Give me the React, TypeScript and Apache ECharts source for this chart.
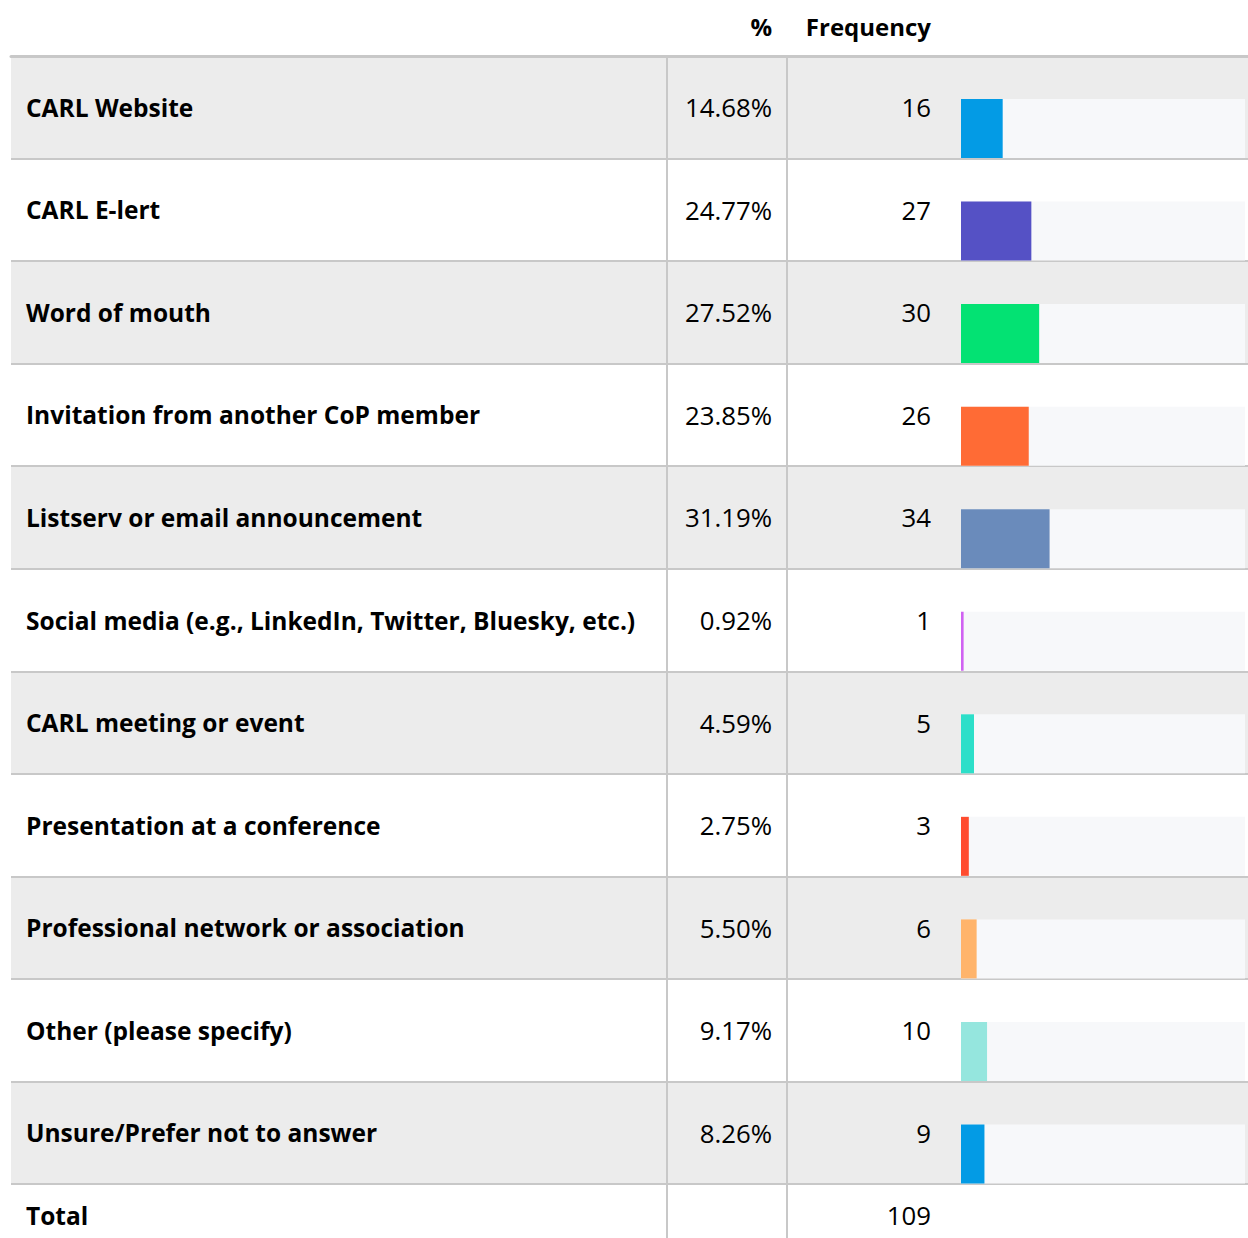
import React, { useEffect, useRef } from "react";
import * as echarts from "echarts";

const categories = [
  "CARL Website",
  "CARL E-lert",
  "Word of mouth",
  "Invitation from another CoP member",
  "Listserv or email announcement",
  "Social media (e.g., LinkedIn, Twitter, Bluesky, etc.)",
  "CARL meeting or event",
  "Presentation at a conference",
  "Professional network or association",
  "Other (please specify)",
  "Unsure/Prefer not to answer",
];
const percents = ["14.68%", "24.77%", "27.52%", "23.85%", "31.19%", "0.92%", "4.59%", "2.75%", "5.50%", "9.17%", "8.26%"];
const frequencies = [16, 27, 30, 26, 34, 1, 5, 3, 6, 10, 9];
const barColors = ["#039be5", "#5551c5", "#03e273", "#ff6b35", "#6a8bbb", "#d062f2", "#2ddfc9", "#ff4c2f", "#ffb46b", "#95e6de", "#039be5"];
const totalLabel = ["Total"];
const totalFrequency = ["109"];
const totalCount = 109;
const headerLabels = ["%", "Frequency"];

const FONT = "Open Sans";
const FS_BOLD = 24.5;
const FS = 25.8;
const LINE = "#c8c8c8";

export default function App() {
  const ref = useRef<HTMLDivElement>(null);
  useEffect(() => {
    const chart = echarts.init(ref.current!, undefined, { renderer: "svg" });
    const bodyTop = 56;
    const bodyH = 1128;
    const totTop = 1184;
    const totH = 54;
    const hiddenX = (gridIndex: number) => ({
      type: "value", gridIndex, show: false, min: 0, max: 1,
    });
    const catAxis = (gridIndex: number, data: string[], extra: any) => ({
      type: "category",
      gridIndex,
      data,
      inverse: true,
      axisTick: { show: false },
      axisLine: { show: false },
      axisLabel: { show: false },
      splitLine: { show: false },
      ...extra,
    });
    const vline = { show: true, lineStyle: { color: LINE, width: 2 } };
    const boldText = { fontFamily: FONT, fontSize: FS_BOLD, fontWeight: "bold", color: "#000" };
    const plainText = { fontFamily: FONT, fontSize: FS, color: "#000" };
    const totalShift = { verticalAlign: "top", lineHeight: 8 };
    const option: any = {
      animation: false,
      backgroundColor: "#ffffff",
      title: [
        { text: headerLabels[0], right: 1248 - 772, top: 10, padding: 0,
          textStyle: { fontFamily: FONT, fontSize: 24, fontWeight: "bold", color: "#000", lineHeight: 32 } },
        { text: headerLabels[1], right: 1248 - 931, top: 10, padding: 0,
          textStyle: { fontFamily: FONT, fontSize: 24, fontWeight: "bold", color: "#000", lineHeight: 32 } },
      ],
      grid: [
        { left: 11, top: bodyTop, width: 1237, height: bodyH },
        { left: 667, top: bodyTop, width: 120, height: bodyH },
        { left: 787, top: bodyTop, width: 160, height: bodyH },
        { left: 961, top: bodyTop + 21.25, width: 284, height: bodyH },
        { left: 11, top: totTop, width: 1237, height: totH },
        { left: 667, top: totTop, width: 120, height: totH },
        { left: 787, top: totTop, width: 160, height: totH },
      ],
      xAxis: [
        { type: "value", gridIndex: 0, position: "top", min: 0, max: 1,
          axisLine: { show: true, lineStyle: { color: LINE, width: 3 } },
          axisTick: { show: false }, axisLabel: { show: false }, splitLine: { show: false } },
        hiddenX(1),
        hiddenX(2),
        { type: "value", gridIndex: 3, show: false, min: 0, max: totalCount },
        hiddenX(4),
        hiddenX(5),
        hiddenX(6),
      ],
      yAxis: [
        catAxis(0, categories, {
          position: "left",
          axisLabel: { show: true, inside: true, margin: 15, ...boldText },
          splitLine: { show: true, lineStyle: { color: LINE, width: 2 } },
          splitArea: { show: true, areaStyle: { color: ["#ececec", "#ffffff"] } },
        }),
        catAxis(1, categories, { position: "left", axisLine: vline }),
        catAxis(1, categories, {
          position: "right", axisLine: vline,
          axisLabel: { show: true, inside: true, margin: 15, ...plainText,
            formatter: (_v: string, i: number) => percents[i] },
        }),
        catAxis(2, categories, {
          position: "right", axisLine: vline,
          axisLabel: { show: true, inside: true, margin: 16, ...plainText,
            formatter: (_v: string, i: number) => String(frequencies[i]) },
        }),
        catAxis(3, categories, { show: false }),
        catAxis(4, totalLabel, {
          position: "left",
          axisLabel: { show: true, inside: true, margin: 15, ...boldText, ...totalShift },
        }),
        catAxis(5, [""], { position: "left", axisLine: vline }),
        catAxis(5, [""], { position: "right", axisLine: vline }),
        catAxis(6, totalFrequency, {
          position: "right", axisLine: vline,
          axisLabel: { show: true, inside: true, margin: 16, ...plainText, ...totalShift },
        }),
      ],
      series: [
        {
          type: "bar",
          xAxisIndex: 3,
          yAxisIndex: 4,
          barWidth: 59,
          showBackground: true,
          backgroundStyle: { color: "#f7f8fa" },
          data: frequencies.map((v, i) => ({ value: v, itemStyle: { color: barColors[i] } })),
        },
      ],
    };
    chart.setOption(option);
    return () => chart.dispose();
  }, []);
  return (
    <div
      ref={ref}
      style={{ position: "fixed", left: 0, top: 0, width: 1248, height: 1238, background: "#fff" }}
    />
  );
}
